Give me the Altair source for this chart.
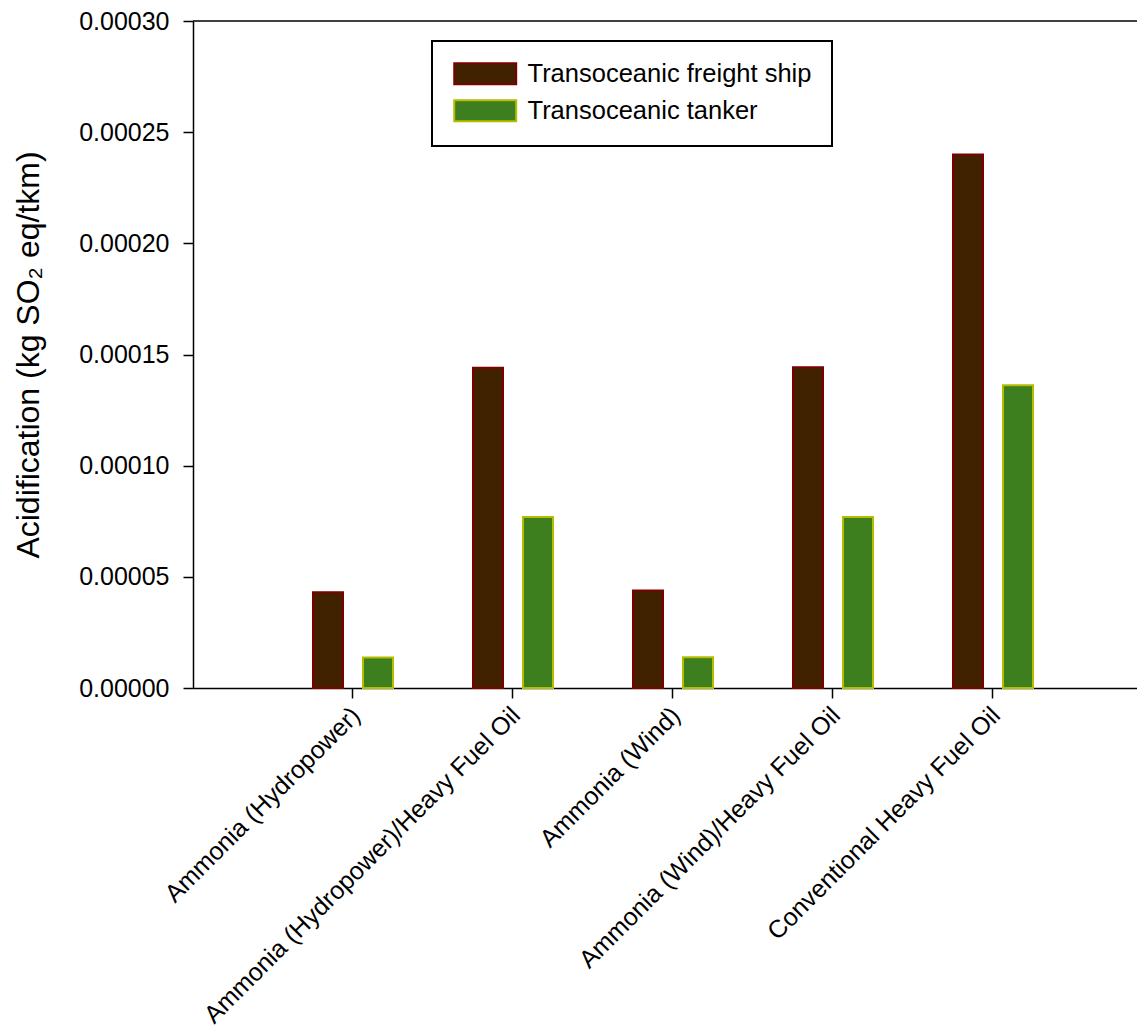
import altair as alt
import pandas as pd

categories = [
    "Ammonia (Hydropower)",
    "Ammonia (Hydropower)/Heavy Fuel Oil",
    "Ammonia (Wind)",
    "Ammonia (Wind)/Heavy Fuel Oil",
    "Conventional Heavy Fuel Oil",
]
series = ["Transoceanic freight ship", "Transoceanic tanker"]
freight_ship = [0.0000431, 0.0001440, 0.0000439, 0.0001443, 0.0002400]
tanker = [0.0000137, 0.0000769, 0.0000138, 0.0000769, 0.0001362]
y_ticks = [0.0, 0.00005, 0.0001, 0.00015, 0.0002, 0.00025, 0.0003]
y_title = "Acidification (kg SO\u2082 eq/tkm)"
fill_colors = ["#402200", "#3d7e1f"]
stroke_colors = ["#7d0000", "#b5bd00"]

rows = []
for c, f, t in zip(categories, freight_ship, tanker):
    rows.append({"category": c, "series": series[0], "value": f})
    rows.append({"category": c, "series": series[1], "value": t})
df = pd.DataFrame(rows)

FONT = "Liberation Sans"

legend = alt.Legend(
    title=None,
    orient="none",
    legendX=239,
    legendY=20,
    labelFont=FONT,
    labelFontSize=25.5,
    labelColor="black",
    labelLimit=600,
    symbolType="M-1,-1H4.9V1H-1Z",
    symbolSize=441,
    symbolStrokeWidth=2,
    labelOffset=50,
    padding=20,
    rowPadding=7,
    strokeColor="black",
    fillColor="white",
)

y_axis = alt.Axis(
    values=y_ticks,
    format=".5f",
    title=y_title,
    labelFontSize=25,
    labelPadding=14,
    tickSize=10,
    titleFontSize=32,
    titleFontWeight="normal",
    titlePadding=33,
    grid=False,
)
y_scale = alt.Scale(domain=[y_ticks[0], y_ticks[-1]], nice=False, zero=True)

bars = alt.Chart(df).mark_bar(strokeWidth=2, opacity=1).encode(
    x=alt.X(
        "category:N",
        sort=categories,
        scale=alt.Scale(paddingInner=0.5, paddingOuter=0.7, align=0.5357),
        axis=alt.Axis(
            title=None,
            labelAngle=-45,
            labelAlign="right",
            labelBaseline="middle",
            labelFontSize=25,
            labelPadding=13,
            labelOffset=3,
            labelLimit=600,
            tickSize=10,
        ),
    ),
    xOffset=alt.XOffset("series:N", sort=series, scale=alt.Scale(paddingInner=0.4, paddingOuter=0)),
    y=alt.Y("value:Q", scale=y_scale, axis=y_axis),
    color=alt.Color("series:N", sort=series, scale=alt.Scale(domain=series, range=fill_colors), legend=legend),
    stroke=alt.Stroke("series:N", sort=series, scale=alt.Scale(domain=series, range=stroke_colors), legend=legend),
)

top_rule = alt.Chart(alt.Data(values=[{"top": y_ticks[-1]}])).mark_rule(
    color="black", strokeWidth=1.5
).encode(y=alt.Y("top:Q", scale=y_scale, axis=y_axis))

chart = (
    alt.layer(bars, top_rule)
    .properties(
        width=944,
        height=667,
        autosize=alt.AutoSizeParams(type="none"),
        padding={"left": 185, "top": 13, "right": 0, "bottom": 340},
    )
    .configure_view(stroke=None)
    .configure_axis(
        domainColor="black",
        domainWidth=1.5,
        tickColor="black",
        tickWidth=1.5,
        labelColor="black",
        titleColor="black",
        labelFont=FONT,
        titleFont=FONT,
    )
    .configure_legend(labelFont=FONT, strokeWidth=2)
)

chart.save("out.html", embed_options={"renderer": "svg", "actions": False})
